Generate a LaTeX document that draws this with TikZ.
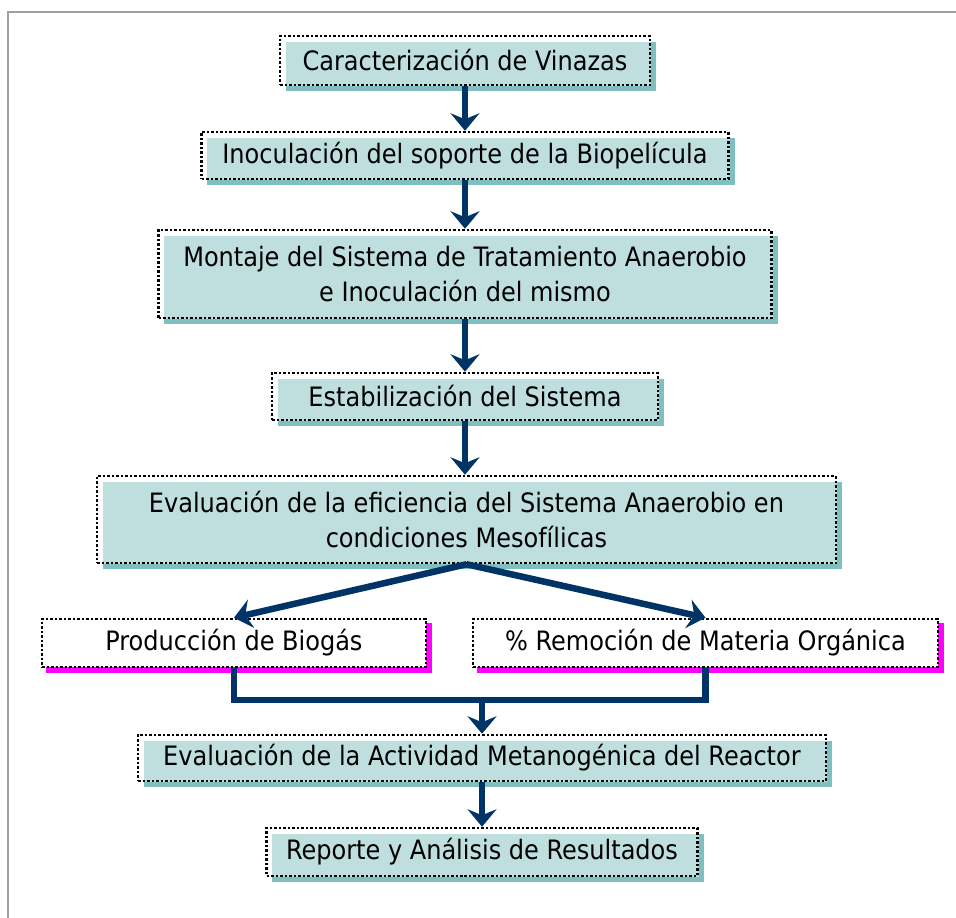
\documentclass[tikz,border=0pt]{standalone}
\usepackage{fontspec}
\setmainfont{DejaVu Sans Condensed}
\usetikzlibrary{arrows.meta,backgrounds}

\definecolor{boxfill}{HTML}{BFDFDF}
\definecolor{boxshade}{HTML}{7FBFBF}
\definecolor{arrownavy}{HTML}{003366}
\definecolor{shadepink}{HTML}{FF00FF}
\definecolor{framegray}{HTML}{A0A0A0}

\tikzset{
  stepbox/.style={draw, line width=0.05cm, dash pattern=on 0.05cm off 0.04cm,
    inner sep=0pt, align=center, font=\fontsize{15.2}{20}\selectfont},
  flow/.style={draw=arrownavy, line width=0.13cm,
    -{Stealth[length=0.35cm,width=0.58cm,inset=0.12cm]}},
  link/.style={draw=arrownavy, line width=0.13cm, line join=miter},
}

\begin{document}
\begin{tikzpicture}[x=0.02cm, y=-0.02cm]
  \useasboundingbox (0,0) rectangle (956,918);
  \draw[framegray, line width=0.04cm] (8,918) -- (8,12) -- (956,12);

  % etapas del proceso
  \node[stepbox, minimum width=7.4cm, minimum height=0.98cm] (b1) at (465,60.5) {Caracterización de Vinazas};
  \node[stepbox, minimum width=10.54cm, minimum height=0.94cm] (b2) at (465,155.5) {Inoculación del soporte de la Biopelícula};
  \node[stepbox, minimum width=12.26cm, minimum height=1.76cm] (b3) at (465,274) {Montaje del Sistema de Tratamiento Anaerobio\\e Inoculación del mismo};
  \node[stepbox, minimum width=7.72cm, minimum height=0.94cm] (b4) at (465,396.5) {Estabilización del Sistema};
  \node[stepbox, minimum width=14.78cm, minimum height=1.74cm] (b5) at (466.5,519.5) {Evaluación de la eficiencia del Sistema Anaerobio en\\condiciones Mesofílicas};
  \node[stepbox, fill=white, minimum width=7.68cm, minimum height=0.96cm] (b6) at (234,643) {Producción de Biogás};
  \node[stepbox, fill=white, minimum width=9.3cm, minimum height=0.96cm] (b7) at (705.5,643) {\% Remoción de Materia Orgánica};
  \node[stepbox, minimum width=13.76cm, minimum height=0.92cm] (b8) at (482,758) {Evaluación de la Actividad Metanogénica del Reactor};
  \node[stepbox, minimum width=8.62cm, minimum height=0.96cm] (b9) at (482,852) {Reporte y Análisis de Resultados};

  % sombras
  \begin{scope}[on background layer]
    \foreach \n in {b1,b2,b3,b4,b5,b8,b9} {
      \fill[boxshade] ([shift={(7,7)}]\n.north west) rectangle ([shift={(5,5)}]\n.south east);
      \fill[boxfill] ([shift={(7,7)}]\n.north west) rectangle (\n.south east);
    }
    \foreach \n in {b6,b7}
      \fill[shadepink] ([shift={(5,5)}]\n.north west) rectangle ([shift={(5,5)}]\n.south east);
  \end{scope}

  % flechas
  \draw[flow] (b1) -- (b2);
  \draw[flow] (b2) -- (b3);
  \draw[flow] (b3) -- (b4);
  \draw[flow] (b4.south) -- (b5.north -| b4.south);
  \draw[flow] (b5.south) -- (b6.north);
  \draw[flow] (b5.south) -- (b7.north);
  \coordinate (join) at (482,700);
  \draw[link] (b6.south) -- (b6.south |- join) -- (b7.south |- join) -- (b7.south);
  \draw[flow] (join) -- (b8.north);
  \draw[flow] (b8) -- (b9);
\end{tikzpicture}
\end{document}
